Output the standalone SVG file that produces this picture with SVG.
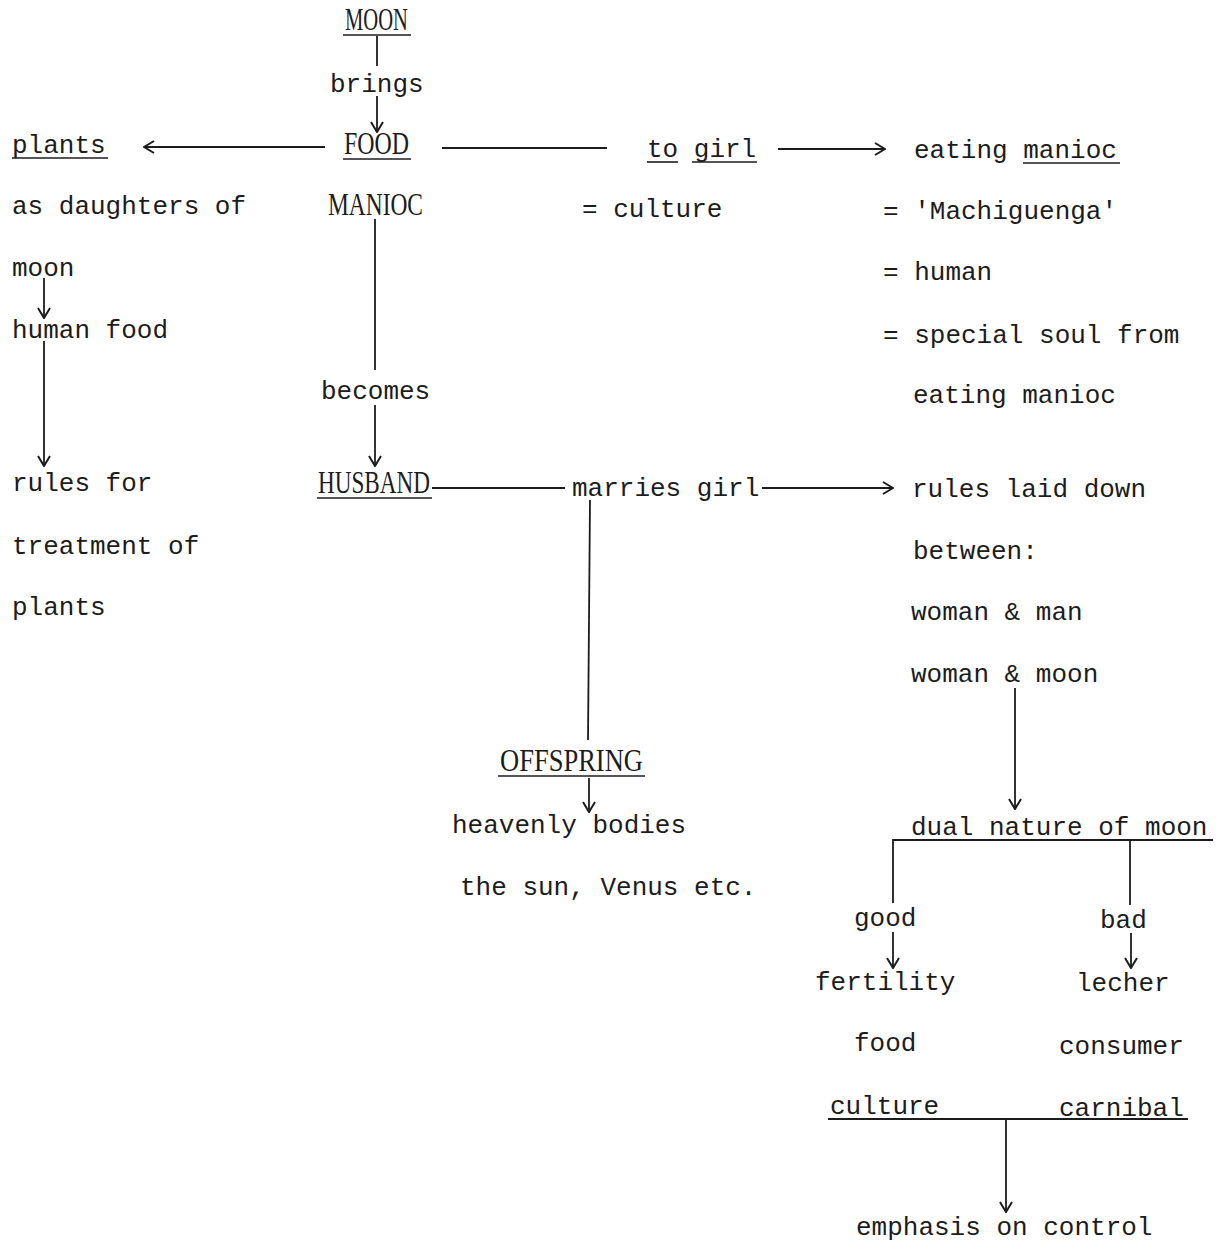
<svg xmlns="http://www.w3.org/2000/svg" width="1230" height="1244" viewBox="0 0 1230 1244">
<style>
text{fill:#1c1c1c}
.t{font-family:"Liberation Mono","DejaVu Sans Mono",monospace;font-size:26px}
.c{font-family:"Liberation Serif","DejaVu Serif",serif;font-size:31px}
.l{stroke:#1c1c1c;stroke-width:1.8;fill:none}
.u{stroke:#1c1c1c;stroke-width:1.6;fill:none}
</style>
<defs>
<marker id="ah" viewBox="0 0 12 14" refX="11" refY="7" markerWidth="12" markerHeight="14" markerUnits="userSpaceOnUse" orient="auto">
<path d="M1,1 L11,7 L1,13" fill="none" stroke="#1c1c1c" stroke-width="2"/>
</marker>
</defs>
<rect width="1230" height="1244" fill="#fff"/>

<g id="moon"><text class="c" x="345" y="30" textLength="63" lengthAdjust="spacingAndGlyphs">MOON</text><line class="u" x1="343" y1="35" x2="411" y2="35"/></g>
<g id="brings"><text class="t" x="330" y="92">brings</text></g>
<g id="food"><text class="c" x="344" y="154" textLength="65" lengthAdjust="spacingAndGlyphs">FOOD</text><line class="u" x1="343" y1="159" x2="411" y2="159"/><text class="c" x="328" y="215" textLength="95" lengthAdjust="spacingAndGlyphs">MANIOC</text></g>
<g id="plants"><text class="t" x="12" y="153">plants</text><line class="u" x1="12" y1="158" x2="108" y2="158"/>
<text class="t" x="12" y="214">as daughters of</text>
<text class="t" x="12" y="276">moon</text></g>
<g id="humanfood"><text class="t" x="12" y="338">human food</text></g>
<g id="rulesfor"><text class="t" x="12" y="491">rules for</text><text class="t" x="12" y="554">treatment of</text><text class="t" x="12" y="615">plants</text></g>
<g id="togirl"><text class="t" x="647" y="157">to girl</text><line class="u" x1="647" y1="162" x2="678" y2="162"/><line class="u" x1="692" y1="162" x2="757" y2="162"/>
<text class="t" x="582" y="217">= culture</text></g>
<g id="eating"><text class="t" x="914" y="158">eating manioc</text><line class="u" x1="1023" y1="163" x2="1120" y2="163"/>
<text class="t" x="883" y="219">= 'Machiguenga'</text>
<text class="t" x="883" y="280">= human</text>
<text class="t" x="883" y="343">= special soul from</text>
<text class="t" x="913" y="403">eating manioc</text></g>
<g id="becomes"><text class="t" x="321" y="399">becomes</text></g>
<g id="husband"><text class="c" x="318" y="493" textLength="112" lengthAdjust="spacingAndGlyphs">HUSBAND</text><line class="u" x1="317" y1="498" x2="432" y2="498"/></g>
<g id="marries"><text class="t" x="572" y="496">marries girl</text></g>
<g id="rules"><text class="t" x="912" y="497">rules laid down</text>
<text class="t" x="913" y="559">between:</text>
<text class="t" x="911" y="620">woman &amp; man</text>
<text class="t" x="911" y="682">woman &amp; moon</text></g>
<g id="offspring"><text class="c" x="500" y="771" textLength="143" lengthAdjust="spacingAndGlyphs">OFFSPRING</text><line class="u" x1="498" y1="776" x2="645" y2="776"/></g>
<g id="heavenly"><text class="t" x="452" y="833">heavenly bodies</text><text class="t" x="460" y="895">the sun, Venus etc.</text></g>
<g id="dual"><text class="t" x="911" y="835">dual nature of moon</text></g>
<g id="good"><text class="t" x="854" y="926">good</text></g>
<g id="bad"><text class="t" x="1100" y="928">bad</text></g>
<g id="goodlist"><text class="t" x="815" y="990">fertility</text><text class="t" x="854" y="1051">food</text><text class="t" x="830" y="1114">culture</text></g>
<g id="badlist"><text class="t" x="1076" y="991">lecher</text><text class="t" x="1059" y="1054">consumer</text><text class="t" x="1059" y="1116">carnibal</text></g>
<g id="emphasis"><text class="t" x="856" y="1235">emphasis on control</text></g>

<g id="connectors">
<line class="l" x1="377" y1="36" x2="377" y2="66"/>
<line class="l" x1="377" y1="96" x2="377" y2="132" marker-end="url(#ah)"/>
<line class="l" x1="325" y1="147" x2="144" y2="147" marker-end="url(#ah)"/>
<line class="l" x1="442" y1="148" x2="607" y2="148"/>
<line class="l" x1="778" y1="149" x2="885" y2="149" marker-end="url(#ah)"/>
<line class="l" x1="44" y1="278" x2="44" y2="318" marker-end="url(#ah)"/>
<line class="l" x1="44" y1="341" x2="44" y2="466" marker-end="url(#ah)"/>
<line class="l" x1="375" y1="219" x2="375" y2="370"/>
<line class="l" x1="375" y1="405" x2="375" y2="466" marker-end="url(#ah)"/>
<line class="l" x1="432" y1="488" x2="565" y2="488"/>
<line class="l" x1="762" y1="488" x2="893" y2="488" marker-end="url(#ah)"/>
<line class="l" x1="590" y1="500" x2="588" y2="740"/>
<line class="l" x1="589" y1="778" x2="589" y2="812" marker-end="url(#ah)"/>
<line class="l" x1="1015" y1="688" x2="1015" y2="809" marker-end="url(#ah)"/>
<polyline class="l" points="893,903 893,840 1213,840"/>
<line class="l" x1="1130" y1="840" x2="1130" y2="905"/>
<line class="l" x1="893" y1="932" x2="893" y2="968" marker-end="url(#ah)"/>
<line class="l" x1="1131" y1="933" x2="1131" y2="968" marker-end="url(#ah)"/>
<line class="l" x1="828" y1="1119" x2="1188" y2="1119"/>
<line class="l" x1="1006" y1="1119" x2="1006" y2="1212" marker-end="url(#ah)"/>
</g>
</svg>
